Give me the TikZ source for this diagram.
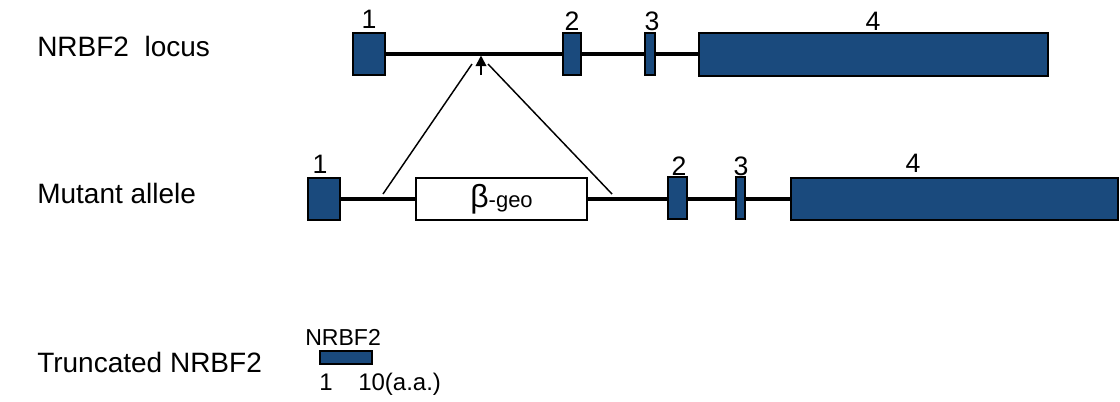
\documentclass[tikz,border=0pt]{standalone}
\usepackage{fontspec}
\setmainfont{Liberation Sans}
\usetikzlibrary{arrows.meta}
\definecolor{exblue}{RGB}{26,74,125}
\tikzset{
  exon/.style={draw=black, fill=exblue, line width=1.5pt, inner sep=0pt, minimum height=32pt},
  geobox/.style={draw=black, fill=white, line width=1.5pt, inner sep=0pt, minimum height=31.5pt},
  backbone/.style={line width=2.6pt, line cap=butt},
  slant/.style={line width=1.1pt},
  lbl/.style={inner sep=0pt, anchor=base west, font=\fontsize{21}{25}\selectfont},
  num/.style={inner sep=0pt, anchor=base, font=\fontsize{20}{24}\selectfont},
  small/.style={inner sep=0pt, anchor=base west, font=\fontsize{18}{22}\selectfont}
}
\begin{document}
\begin{tikzpicture}[x=0.75pt,y=-0.75pt]
\useasboundingbox (0,0) rectangle (1120,401);
% left labels
\node[lbl] (l1) at (37,56) {NRBF2\ \ locus};
\node[lbl] (l2) at (37,203) {Mutant allele};
\node[lbl] (l3) at (37,372) {Truncated NRBF2};

% top row: locus
\node[exon, minimum width=24pt] (t1) at (369,54) {};
\node[exon, minimum width=13.5pt] (t2) at (572,54) {};
\node[exon, minimum width=7.5pt] (t3) at (650,54) {};
\node[exon, minimum width=261.75pt] (t4) at (873.5,54.5) {};
\draw[backbone] (t1.east) -- (t2.west);
\draw[backbone] (t2.east) -- (t3.west);
\draw[backbone] (t3.east) -- (t4.west |- t3.east);
\node[num] (n1) at (369,28) {1};
\node[num] (n2) at (572,30) {2};
\node[num] (n3) at (652,30) {3};
\node[num] (n4) at (873,30) {4};

% insertion arrow
\coordinate (ins) at (481,55.5);
\coordinate (insb) at (481,75);
\draw[line width=1.4pt, -{Triangle[width=8pt,length=8pt]}] (insb) -- (ins);

% middle row: mutant allele
\node[exon, minimum width=24pt, minimum height=31.5pt] (m1) at (324,199) {};
\node[geobox, minimum width=128.25pt] (geo) at (501.5,199) {\fontsize{24}{26}\selectfont β\fontsize{16.5}{20}\selectfont -geo};
\node[exon, minimum width=14.25pt, minimum height=31.5pt] (m2) at (677.5,198) {};
\node[exon, minimum width=6.75pt, minimum height=31.5pt] (m3) at (740.5,198) {};
\node[exon, minimum width=245.25pt, minimum height=31.5pt] (m4) at (954.5,199) {};
\draw[backbone] (m1.east) -- (geo.west);
\draw[backbone] (geo.east) -- (m2.west |- geo.east);
\draw[backbone] (m2.east |- m1.east) -- (m3.west |- m1.east);
\draw[backbone] (m3.east |- m1.east) -- (m4.west);
\node[num] (p1) at (320,173) {1};
\node[num] (p2) at (679,175) {2};
\node[num] (p3) at (741,175) {3};
\node[num] (p4) at (913,172) {4};

% expansion lines
\coordinate (sl1) at (472,64);
\coordinate (sl2) at (383,194);
\coordinate (sr1) at (488,64);
\coordinate (sr2) at (612,194);
\draw[slant] (sl1) -- (sl2);
\draw[slant] (sr1) -- (sr2);

% bottom: truncated protein
\node[small, font=\fontsize{17.3}{20}\selectfont] (pn) at (305,345) {NRBF2};
\node[exon, line width=1.3pt, minimum width=39pt, minimum height=9.75pt] (pb) at (346,357.5) {};
\node[small] (a1) at (319,390) {1};
\node[small] (a10) at (358,390) {10(a.a.)};
\end{tikzpicture}
\end{document}
